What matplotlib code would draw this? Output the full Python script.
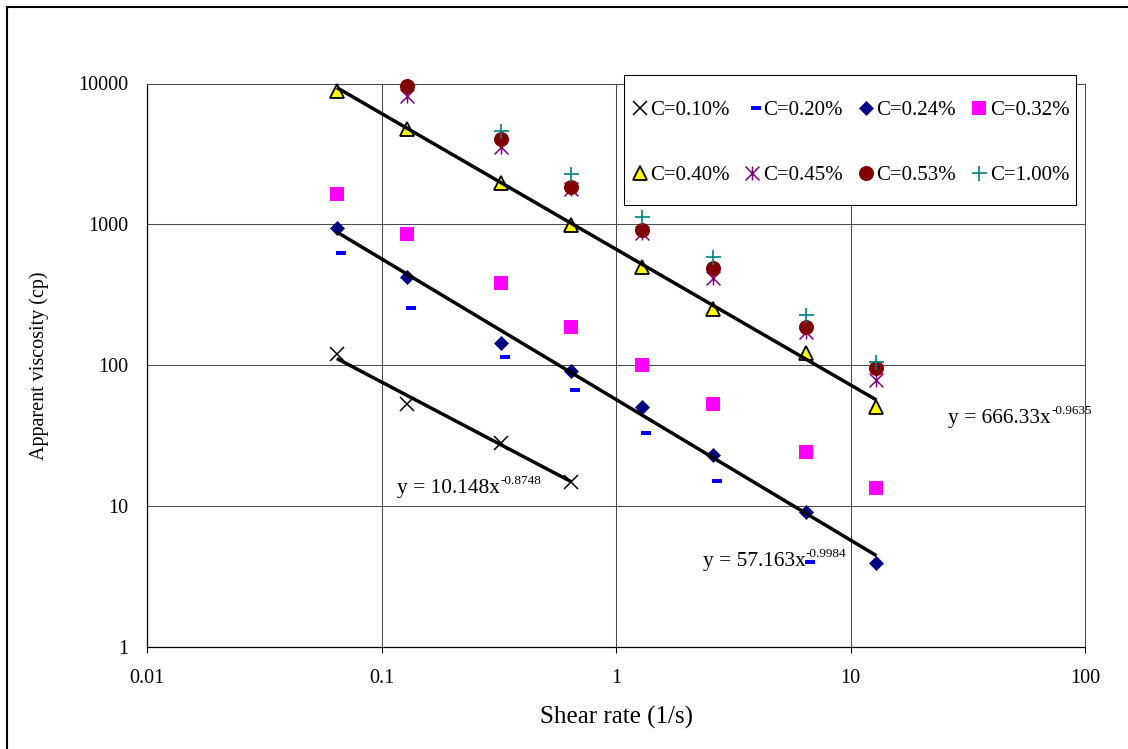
import matplotlib
matplotlib.use("Agg")
import numpy as np
import matplotlib.pyplot as plt
from matplotlib.path import Path
from matplotlib.lines import Line2D
from matplotlib.patches import Rectangle
from matplotlib.ticker import FixedLocator, FixedFormatter, NullLocator

plt.rcParams['font.family'] = ['Liberation Serif', 'DejaVu Serif']

# ---- data -------------------------------------------------------------
shear_rate = [0.0645, 0.129, 0.3225, 0.645, 1.29, 2.58, 6.45, 12.9]

visc_c010 = [119.5, 52.8, 27.9, 14.9]                         # first 4 rates
visc_c020 = [625, 253, 114, 67, 33, 15.1, 4.0]                 # first 7 rates
visc_c024 = [946, 421, 144.5, 91, 50.8, 23.1, 9.13, 3.97]
visc_c032 = [1641, 853, 385, 188, 100.3, 52.8, 24.1, 13.5]
visc_c040 = [8880, 4750, 1973, 988, 500, 250, 121.4, 50.3]
visc_c045 = [8140, 3520, 1772, 867, 414, 172, 78.5]            # from 2nd rate
visc_c053 = [9590, 4030, 1832, 911, 487, 187.6, 95.1]          # from 2nd rate
visc_c100 = [4590, 2275, 1132, 589, 227, 105.9]                # from 3rd rate

series_labels = ["C=0.10%", "C=0.20%", "C=0.24%", "C=0.32%",
                 "C=0.40%", "C=0.45%", "C=0.53%", "C=1.00%"]

# power-law trend lines  y = a * x^b
fit_c010 = (10.148, -0.8748)
fit_c024 = (57.163, -0.9984)
fit_c040 = (666.33, -0.9635)

x_ticks = [0.01, 0.1, 1, 10, 100]
x_tick_labels = ["0.01", "0.1", "1", "10", "100"]
y_ticks = [1, 10, 100, 1000, 10000]
y_tick_labels = ["1", "10", "100", "1000", "10000"]

# ---- figure -----------------------------------------------------------
W, H = 1128, 749
fig = plt.figure(figsize=(W / 100, H / 100), dpi=100)
fig.patch.set_facecolor("white")
ax = fig.add_axes([147 / W, (H - 647) / H, 938 / W, 563.5 / H])
ax.set_xscale("log")
ax.set_yscale("log")
ax.set_xlim(0.01, 100)
ax.set_ylim(1, 10000)

ax.xaxis.set_major_locator(FixedLocator(x_ticks))
ax.xaxis.set_major_formatter(FixedFormatter(x_tick_labels))
ax.yaxis.set_major_locator(FixedLocator(y_ticks))
ax.yaxis.set_major_formatter(FixedFormatter(y_tick_labels))
ax.xaxis.set_minor_locator(NullLocator())
ax.yaxis.set_minor_locator(NullLocator())

ax.grid(True, which="major", color="#4d4d4d", lw=0.75)
ax.set_axisbelow(True)
for side in ("top", "right"):
    ax.spines[side].set_color("#4d4d4d")
    ax.spines[side].set_linewidth(0.75)
for side in ("left", "bottom"):
    ax.spines[side].set_color("black")
    ax.spines[side].set_linewidth(0.9)

ax.tick_params(axis="x", which="major", direction="out", length=4, width=0.75,
               pad=12, labelsize=14.5)
ax.tick_params(axis="y", which="major", length=0, pad=13.5, labelsize=14.5)

ax.set_xlabel("Shear rate (1/s)", fontsize=18, labelpad=13)
ax.set_ylabel("Apparent viscosity (cp)", fontsize=14.5, labelpad=21)

# ---- custom markers ---------------------------------------------------
dash_verts = [(-0.8, -1.65), (8.9, -1.65), (8.9, 1.65), (-0.8, 1.65), (-0.8, -1.65)]
dash_marker = Path(dash_verts, [Path.MOVETO, Path.LINETO, Path.LINETO,
                                Path.LINETO, Path.CLOSEPOLY])
dash_ms = 2 * 8.9 * 0.72

star_marker = Path([(0, -1), (0, 1), (-1, -1), (1, 1), (-1, 1), (1, -1)],
                   [Path.MOVETO, Path.LINETO, Path.MOVETO, Path.LINETO,
                    Path.MOVETO, Path.LINETO])

styles = [
    dict(marker="x", ms=10.5, mew=1.1, color="black"),
    dict(marker=dash_marker, ms=dash_ms, mew=0, color="#0000ff"),
    dict(marker="D", ms=7.5, mew=0.5, color="#000080"),
    dict(marker="s", ms=10.5, mew=0, color="#ff00ff"),
    dict(marker="^", ms=10.0, mew=1.3, color="#ffff00", mec="black"),
    dict(marker=star_marker, ms=10.0, mew=1.1, color="#800080", mfc="none"),
    dict(marker="o", ms=10.8, mew=0, color="#800000"),
    dict(marker="+", ms=10.8, mew=1.2, color="#008080"),
]


def marker_kw(st):
    st = dict(st)
    color = st.pop("color")
    st.setdefault("mec", color)
    st.setdefault("mfc", color)
    return st


series = [
    (shear_rate[:4], visc_c010),
    (shear_rate[:7], visc_c020),
    (shear_rate, visc_c024),
    (shear_rate, visc_c032),
    (shear_rate, visc_c040),
    (shear_rate[1:], visc_c045),
    (shear_rate[1:], visc_c053),
    (shear_rate[2:], visc_c100),
]

for (xs, ys), st, lab in zip(series, styles, series_labels):
    ax.plot(xs, ys, linestyle="none", clip_on=False, label=lab, zorder=3,
            **marker_kw(st))

# ---- trend lines ------------------------------------------------------
for (xs, _), (a, b) in ((series[0], fit_c010), (series[2], fit_c024),
                        (series[4], fit_c040)):
    xx = np.geomspace(xs[0], xs[-1], 60)
    ax.plot(xx, a * xx ** b, color="black", lw=2.5, zorder=4,
            solid_capstyle="butt")


def equation(xf, yf, coef, expo):
    base = ax.text(xf, yf, "y = %sx" % coef, transform=ax.transAxes,
                   fontsize=15.4, ha="left", va="baseline", zorder=5)
    ax.annotate(expo, xy=(1, 1), xycoords=base, xytext=(0.3, 3),
                textcoords="offset points", fontsize=9.5, ha="left",
                va="top", zorder=5)


equation(0.2662, 0.2738, "10.148", "-0.8748")
equation(0.5924, 0.1443, "57.163", "-0.9984")
equation(0.8543, 0.3970, "666.33", "-0.9635")

# ---- legend box (two rows of four entries) ---------------------------
fig.add_artist(Rectangle((624 / W, 1 - 205 / H), 452 / W, 130 / H,
                         transform=fig.transFigure, facecolor="white",
                         edgecolor="black", lw=0.75, zorder=3))
col_marker_px = [639.5, 752.0, 865.5, 979.0]
col_text_px = [649.8, 763.0, 876.3, 989.7]
row_px = [108.3, 173.3]
for i, (st, lab) in enumerate(zip(styles, series_labels)):
    r, c = divmod(i, 4)
    yf = 1 - row_px[r] / H
    fig.add_artist(Line2D([col_marker_px[c] / W], [yf], linestyle="none",
                          transform=fig.transFigure, zorder=6,
                          **marker_kw(st)))
    fig.text(col_text_px[c] / W, yf, lab, fontsize=15, ha="left",
             va="center_baseline", zorder=6)

# ---- outer chart border ----------------------------------------------
fig.add_artist(Line2D([6.5 / W, 6.5 / W], [0, 1 - 6.5 / H],
                      transform=fig.transFigure, color="black", lw=1.5))
fig.add_artist(Line2D([6.5 / W, 1], [1 - 6.5 / H, 1 - 6.5 / H],
                      transform=fig.transFigure, color="black", lw=1.5))

fig.savefig("out.png", dpi=100)
